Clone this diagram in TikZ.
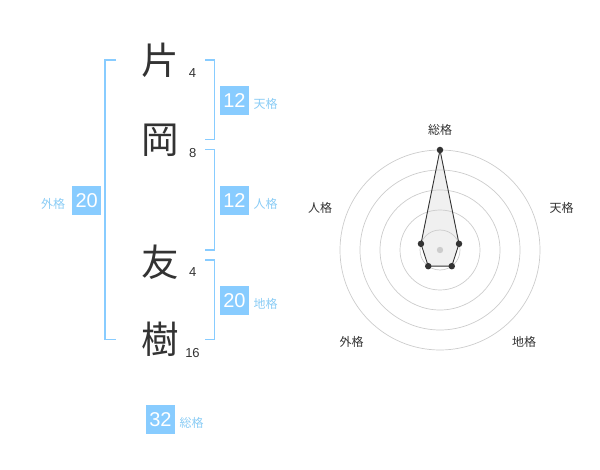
\documentclass[tikz,border=0pt]{standalone}
\usepackage{fontspec}
\setmainfont{Liberation Sans}
\newfontfamily\cjk{Noto Sans CJK JP}
\definecolor{kblue}{HTML}{88CCFF}
\definecolor{klbl}{HTML}{8ACCF5}
\definecolor{kdark}{HTML}{333333}
\definecolor{kgrid}{HTML}{CCCCCC}
\tikzset{
  kanji/.style={inner sep=0pt, text=kdark, font=\fontsize{37.5}{37.5}\selectfont\cjk},
  num/.style={inner sep=0pt, text=kdark, font=\fontsize{13}{13}\selectfont},
  br/.style={draw=kblue, line width=1.5pt},
  kbox/.style={fill=kblue, text=white, minimum width=29pt, minimum height=29pt, inner sep=0pt, font=\fontsize{20}{20}\selectfont},
  lbl/.style={inner sep=0pt, text=klbl, font=\fontsize{12}{12}\selectfont\cjk},
  rlbl/.style={inner sep=0pt, text=kdark, font=\fontsize{12}{12}\selectfont\cjk},
  grid/.style={draw=kgrid, line width=0.7pt},
  dot/.style={circle, fill=kdark, inner sep=0pt, minimum size=6.5pt},
}
\begin{document}
\begin{tikzpicture}[x=1pt,y=-1pt]
\useasboundingbox (0,0) rectangle (600,470);
% name characters
\node[kanji] (k1) at (160,60) {片};
\node[kanji] (k2) at (160,140.5) {岡};
\node[kanji] (k3) at (160,262) {友};
\node[kanji] (k4) at (160,339.5) {樹};
\node[num] (n1) at (192.5,72.7) {4};
\node[num] (n2) at (192.7,152.7) {8};
\node[num] (n3) at (192.7,272.3) {4};
\node[num] (n4) at (192.5,352.7) {16};
% brackets
\draw[br] (116,60) -- (105,60) -- (105,339.3) -- (116,339.3);
\draw[br] (205,60) -- (214.3,60) -- (214.3,139.7) -- (205,139.7);
\draw[br] (205,149.3) -- (214.3,149.3) -- (214.3,250) -- (205,250);
\draw[br] (205,260) -- (214.3,260) -- (214.3,339.3) -- (205,339.3);
% boxes
\node[kbox] (b1) at (234.5,100.3) {12};
\node[lbl] (l1) at (265.5,103.5) {天格};
\node[kbox] (b2) at (234.5,200.2) {12};
\node[lbl] (l2) at (265.5,203.5) {人格};
\node[kbox] (b3) at (234.5,300.5) {20};
\node[lbl] (l3) at (265.5,303.5) {地格};
\node[kbox] (b4) at (86.7,200.2) {20};
\node[lbl] (l4) at (53,203.5) {外格};
\node[kbox] (b5) at (160.5,419.5) {32};
\node[lbl] (l5) at (191.7,422.7) {総格};
% radar chart
\begin{scope}[shift={(440,250)},yscale=-1]
  \foreach \r in {20,40,60,80,100} \draw[grid] (0,0) circle (\r);
  \fill[kgrid] (0,0) circle (3.2);
  \coordinate (p1) at (90:100);
  \coordinate (p2) at (18:20);
  \coordinate (p3) at (-54:20);
  \coordinate (p4) at (-126:20);
  \coordinate (p5) at (162:20);
  \filldraw[fill=kgrid, fill opacity=0.3, draw=kdark, line width=0.9pt, line join=round]
    (p1) -- (p2) -- (p3) -- (p4) -- (p5) -- cycle;
  \foreach \p in {p1,p2,p3,p4,p5} \node[dot] at (\p) {};
\end{scope}
\node[rlbl] (r1) at (440,130) {総格};
\node[rlbl] (r2) at (561.7,208.3) {天格};
\node[rlbl] (r3) at (524,341.7) {地格};
\node[rlbl] (r4) at (351.7,341.7) {外格};
\node[rlbl] (r5) at (320,208.3) {人格};
\end{tikzpicture}
\end{document}
